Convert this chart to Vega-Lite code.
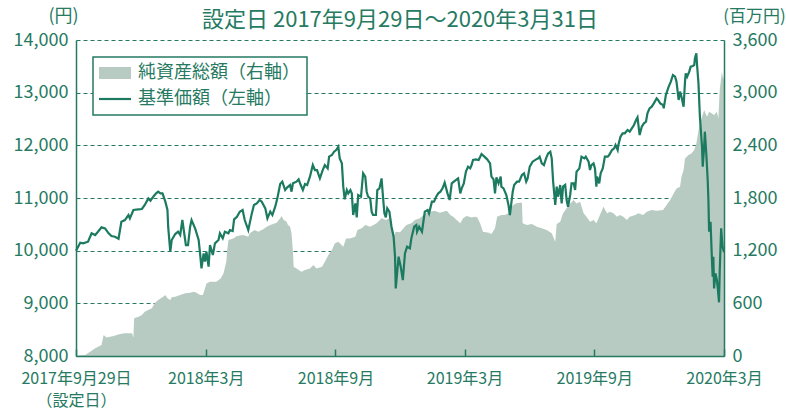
{
  "$schema": "https://vega.github.io/schema/vega-lite/v6.json",
  "width": 648,
  "height": 316,
  "autosize": {"type": "none"},
  "padding": {"left": 76, "top": 40, "right": 62, "bottom": 56},
  "background": "white",
  "title": {"text": "設定日 2017年9月29日～2020年3月31日", "fontSize": 22, "fontWeight": "normal", "color": "#267a62", "offset": 10, "dy": 35, "anchor": "middle"},
  "datasets": {
    "nav": [
      {"date": "2017-09-29", "nav": 10000}, {"date": "2017-10-05", "nav": 10151}, {"date": "2017-10-09", "nav": 10139}, {"date": "2017-10-16", "nav": 10170},
      {"date": "2017-10-21", "nav": 10329}, {"date": "2017-10-26", "nav": 10297}, {"date": "2017-10-30", "nav": 10360}, {"date": "2017-11-04", "nav": 10443},
      {"date": "2017-11-09", "nav": 10424}, {"date": "2017-11-14", "nav": 10329}, {"date": "2017-11-18", "nav": 10278}, {"date": "2017-11-23", "nav": 10265},
      {"date": "2017-11-28", "nav": 10227}, {"date": "2017-12-02", "nav": 10550}, {"date": "2017-12-07", "nav": 10582}, {"date": "2017-12-12", "nav": 10677},
      {"date": "2017-12-14", "nav": 10614}, {"date": "2017-12-19", "nav": 10772}, {"date": "2017-12-26", "nav": 10784}, {"date": "2017-12-31", "nav": 10791},
      {"date": "2018-01-04", "nav": 10867}, {"date": "2018-01-09", "nav": 10993}, {"date": "2018-01-12", "nav": 10949}, {"date": "2018-01-16", "nav": 11025},
      {"date": "2018-01-20", "nav": 11088}, {"date": "2018-01-23", "nav": 11120}, {"date": "2018-01-26", "nav": 11088}, {"date": "2018-01-29", "nav": 11088},
      {"date": "2018-02-02", "nav": 10930}, {"date": "2018-02-05", "nav": 10772}, {"date": "2018-02-06", "nav": 10455}, {"date": "2018-02-09", "nav": 9980},
      {"date": "2018-02-11", "nav": 10202}, {"date": "2018-02-16", "nav": 10316}, {"date": "2018-02-20", "nav": 10360}, {"date": "2018-02-23", "nav": 10297},
      {"date": "2018-02-26", "nav": 10582}, {"date": "2018-02-28", "nav": 10392}, {"date": "2018-03-03", "nav": 10107}, {"date": "2018-03-06", "nav": 10107},
      {"date": "2018-03-09", "nav": 10455}, {"date": "2018-03-11", "nav": 10582}, {"date": "2018-03-16", "nav": 10424}, {"date": "2018-03-21", "nav": 10202},
      {"date": "2018-03-23", "nav": 9949}, {"date": "2018-03-25", "nav": 9664}, {"date": "2018-03-28", "nav": 9949}, {"date": "2018-03-30", "nav": 9791},
      {"date": "2018-04-01", "nav": 9981}, {"date": "2018-04-04", "nav": 9696}, {"date": "2018-04-06", "nav": 10107}, {"date": "2018-04-10", "nav": 9917},
      {"date": "2018-04-13", "nav": 10139}, {"date": "2018-04-18", "nav": 10202}, {"date": "2018-04-20", "nav": 10329}, {"date": "2018-04-24", "nav": 10234},
      {"date": "2018-04-27", "nav": 10360}, {"date": "2018-05-02", "nav": 10329}, {"date": "2018-05-04", "nav": 10392}, {"date": "2018-05-08", "nav": 10373},
      {"date": "2018-05-10", "nav": 10594}, {"date": "2018-05-14", "nav": 10645}, {"date": "2018-05-18", "nav": 10740}, {"date": "2018-05-22", "nav": 10772},
      {"date": "2018-05-25", "nav": 10582}, {"date": "2018-05-30", "nav": 10392}, {"date": "2018-06-04", "nav": 10708}, {"date": "2018-06-07", "nav": 10867},
      {"date": "2018-06-11", "nav": 10898}, {"date": "2018-06-15", "nav": 10962}, {"date": "2018-06-18", "nav": 10930}, {"date": "2018-06-23", "nav": 10803},
      {"date": "2018-06-26", "nav": 10613}, {"date": "2018-06-30", "nav": 10740}, {"date": "2018-07-03", "nav": 10677}, {"date": "2018-07-07", "nav": 10835},
      {"date": "2018-07-10", "nav": 10993}, {"date": "2018-07-14", "nav": 11265}, {"date": "2018-07-17", "nav": 11310}, {"date": "2018-07-21", "nav": 11151},
      {"date": "2018-07-24", "nav": 11202}, {"date": "2018-07-28", "nav": 11246}, {"date": "2018-07-30", "nav": 11120}, {"date": "2018-08-01", "nav": 11278},
      {"date": "2018-08-06", "nav": 11310}, {"date": "2018-08-09", "nav": 11354}, {"date": "2018-08-12", "nav": 11246}, {"date": "2018-08-15", "nav": 11151},
      {"date": "2018-08-18", "nav": 11265}, {"date": "2018-08-21", "nav": 11246}, {"date": "2018-08-25", "nav": 11405}, {"date": "2018-08-29", "nav": 11626},
      {"date": "2018-09-01", "nav": 11531}, {"date": "2018-09-04", "nav": 11531}, {"date": "2018-09-08", "nav": 11373}, {"date": "2018-09-12", "nav": 11531},
      {"date": "2018-09-15", "nav": 11626}, {"date": "2018-09-19", "nav": 11563}, {"date": "2018-09-21", "nav": 11785}, {"date": "2018-09-25", "nav": 11816},
      {"date": "2018-09-28", "nav": 11880}, {"date": "2018-10-01", "nav": 11911}, {"date": "2018-10-04", "nav": 11974}, {"date": "2018-10-06", "nav": 11753},
      {"date": "2018-10-09", "nav": 11658}, {"date": "2018-10-11", "nav": 11215}, {"date": "2018-10-13", "nav": 10974}, {"date": "2018-10-16", "nav": 11151},
      {"date": "2018-10-18", "nav": 11088}, {"date": "2018-10-21", "nav": 11151}, {"date": "2018-10-23", "nav": 11088}, {"date": "2018-10-25", "nav": 10677},
      {"date": "2018-10-28", "nav": 10898}, {"date": "2018-10-30", "nav": 10632}, {"date": "2018-11-01", "nav": 11057}, {"date": "2018-11-05", "nav": 11025},
      {"date": "2018-11-08", "nav": 11468}, {"date": "2018-11-11", "nav": 11405}, {"date": "2018-11-13", "nav": 11120}, {"date": "2018-11-15", "nav": 11025},
      {"date": "2018-11-18", "nav": 10993}, {"date": "2018-11-20", "nav": 10740}, {"date": "2018-11-22", "nav": 10677}, {"date": "2018-11-26", "nav": 10677},
      {"date": "2018-11-28", "nav": 11151}, {"date": "2018-12-01", "nav": 11183}, {"date": "2018-12-04", "nav": 11373}, {"date": "2018-12-06", "nav": 11025},
      {"date": "2018-12-08", "nav": 10708}, {"date": "2018-12-10", "nav": 10632}, {"date": "2018-12-12", "nav": 10803}, {"date": "2018-12-15", "nav": 10740},
      {"date": "2018-12-18", "nav": 10455}, {"date": "2018-12-21", "nav": 10265}, {"date": "2018-12-23", "nav": 9886}, {"date": "2018-12-24", "nav": 9284},
      {"date": "2018-12-28", "nav": 9886}, {"date": "2018-12-31", "nav": 9696}, {"date": "2019-01-03", "nav": 9442}, {"date": "2019-01-06", "nav": 9949},
      {"date": "2019-01-09", "nav": 10075}, {"date": "2019-01-13", "nav": 10044}, {"date": "2019-01-15", "nav": 10234}, {"date": "2019-01-19", "nav": 10455},
      {"date": "2019-01-22", "nav": 10487}, {"date": "2019-01-23", "nav": 10360}, {"date": "2019-01-26", "nav": 10455}, {"date": "2019-01-30", "nav": 10360},
      {"date": "2019-02-01", "nav": 10550}, {"date": "2019-02-03", "nav": 10740}, {"date": "2019-02-07", "nav": 10772}, {"date": "2019-02-09", "nav": 10708},
      {"date": "2019-02-13", "nav": 10930}, {"date": "2019-02-16", "nav": 10930}, {"date": "2019-02-19", "nav": 11025}, {"date": "2019-02-22", "nav": 11088},
      {"date": "2019-02-25", "nav": 11120}, {"date": "2019-02-28", "nav": 11183}, {"date": "2019-03-03", "nav": 11291}, {"date": "2019-03-07", "nav": 11088},
      {"date": "2019-03-10", "nav": 10962}, {"date": "2019-03-13", "nav": 11278}, {"date": "2019-03-16", "nav": 11310}, {"date": "2019-03-20", "nav": 11354},
      {"date": "2019-03-22", "nav": 11373}, {"date": "2019-03-25", "nav": 11088}, {"date": "2019-03-27", "nav": 11183}, {"date": "2019-03-30", "nav": 11278},
      {"date": "2019-04-02", "nav": 11500}, {"date": "2019-04-05", "nav": 11595}, {"date": "2019-04-08", "nav": 11563}, {"date": "2019-04-10", "nav": 11626},
      {"date": "2019-04-12", "nav": 11721}, {"date": "2019-04-16", "nav": 11734}, {"date": "2019-04-20", "nav": 11721}, {"date": "2019-04-24", "nav": 11835},
      {"date": "2019-04-28", "nav": 11785}, {"date": "2019-05-02", "nav": 11734}, {"date": "2019-05-06", "nav": 11658}, {"date": "2019-05-08", "nav": 11405},
      {"date": "2019-05-11", "nav": 11354}, {"date": "2019-05-13", "nav": 11088}, {"date": "2019-05-15", "nav": 11392}, {"date": "2019-05-18", "nav": 11278},
      {"date": "2019-05-21", "nav": 11405}, {"date": "2019-05-22", "nav": 11215}, {"date": "2019-05-25", "nav": 11183}, {"date": "2019-05-29", "nav": 11057},
      {"date": "2019-06-01", "nav": 10867}, {"date": "2019-06-03", "nav": 10677}, {"date": "2019-06-07", "nav": 11120}, {"date": "2019-06-09", "nav": 11246},
      {"date": "2019-06-13", "nav": 11310}, {"date": "2019-06-16", "nav": 11310}, {"date": "2019-06-20", "nav": 11436}, {"date": "2019-06-23", "nav": 11468},
      {"date": "2019-06-26", "nav": 11310}, {"date": "2019-06-28", "nav": 11373}, {"date": "2019-07-01", "nav": 11595}, {"date": "2019-07-05", "nav": 11690},
      {"date": "2019-07-10", "nav": 11734}, {"date": "2019-07-13", "nav": 11753}, {"date": "2019-07-15", "nav": 11785}, {"date": "2019-07-18", "nav": 11658},
      {"date": "2019-07-21", "nav": 11626}, {"date": "2019-07-24", "nav": 11753}, {"date": "2019-07-27", "nav": 11848}, {"date": "2019-07-30", "nav": 11880},
      {"date": "2019-08-01", "nav": 11753}, {"date": "2019-08-03", "nav": 11310}, {"date": "2019-08-06", "nav": 10867}, {"date": "2019-08-08", "nav": 11215},
      {"date": "2019-08-10", "nav": 11025}, {"date": "2019-08-13", "nav": 11247}, {"date": "2019-08-15", "nav": 10898}, {"date": "2019-08-17", "nav": 11215},
      {"date": "2019-08-20", "nav": 11247}, {"date": "2019-08-22", "nav": 10962}, {"date": "2019-08-24", "nav": 10835}, {"date": "2019-08-27", "nav": 11057},
      {"date": "2019-08-29", "nav": 11278}, {"date": "2019-09-01", "nav": 11278}, {"date": "2019-09-03", "nav": 11152}, {"date": "2019-09-05", "nav": 11500},
      {"date": "2019-09-09", "nav": 11563}, {"date": "2019-09-12", "nav": 11785}, {"date": "2019-09-16", "nav": 11753}, {"date": "2019-09-18", "nav": 11785},
      {"date": "2019-09-22", "nav": 11690}, {"date": "2019-09-24", "nav": 11531}, {"date": "2019-09-26", "nav": 11626}, {"date": "2019-09-29", "nav": 11658},
      {"date": "2019-10-01", "nav": 11563}, {"date": "2019-10-03", "nav": 11215}, {"date": "2019-10-04", "nav": 11405}, {"date": "2019-10-07", "nav": 11278},
      {"date": "2019-10-09", "nav": 11468}, {"date": "2019-10-12", "nav": 11563}, {"date": "2019-10-15", "nav": 11785}, {"date": "2019-10-19", "nav": 11785},
      {"date": "2019-10-21", "nav": 11816}, {"date": "2019-10-25", "nav": 11911}, {"date": "2019-10-28", "nav": 11943}, {"date": "2019-10-30", "nav": 12006},
      {"date": "2019-11-02", "nav": 11911}, {"date": "2019-11-03", "nav": 12006}, {"date": "2019-11-06", "nav": 12164}, {"date": "2019-11-09", "nav": 12228},
      {"date": "2019-11-12", "nav": 12228}, {"date": "2019-11-16", "nav": 12291}, {"date": "2019-11-19", "nav": 12259}, {"date": "2019-11-22", "nav": 12323},
      {"date": "2019-11-25", "nav": 12386}, {"date": "2019-11-28", "nav": 12481}, {"date": "2019-11-30", "nav": 12531}, {"date": "2019-12-03", "nav": 12196},
      {"date": "2019-12-06", "nav": 12354}, {"date": "2019-12-09", "nav": 12418}, {"date": "2019-12-12", "nav": 12449}, {"date": "2019-12-14", "nav": 12607},
      {"date": "2019-12-17", "nav": 12702}, {"date": "2019-12-20", "nav": 12734}, {"date": "2019-12-23", "nav": 12797}, {"date": "2019-12-27", "nav": 12892},
      {"date": "2019-12-29", "nav": 12861}, {"date": "2020-01-01", "nav": 12797}, {"date": "2020-01-05", "nav": 12766}, {"date": "2020-01-06", "nav": 12702},
      {"date": "2020-01-09", "nav": 12956}, {"date": "2020-01-13", "nav": 13114}, {"date": "2020-01-16", "nav": 13209}, {"date": "2020-01-19", "nav": 13335},
      {"date": "2020-01-22", "nav": 13304}, {"date": "2020-01-24", "nav": 13209}, {"date": "2020-01-27", "nav": 12861}, {"date": "2020-01-29", "nav": 13019},
      {"date": "2020-01-31", "nav": 12924}, {"date": "2020-02-03", "nav": 12734}, {"date": "2020-02-05", "nav": 13209}, {"date": "2020-02-06", "nav": 13367},
      {"date": "2020-02-08", "nav": 13304}, {"date": "2020-02-11", "nav": 13399}, {"date": "2020-02-13", "nav": 13494}, {"date": "2020-02-16", "nav": 13506},
      {"date": "2020-02-18", "nav": 13525}, {"date": "2020-02-19", "nav": 13652}, {"date": "2020-02-21", "nav": 13747}, {"date": "2020-02-22", "nav": 13525},
      {"date": "2020-02-24", "nav": 13177}, {"date": "2020-02-26", "nav": 12544}, {"date": "2020-02-29", "nav": 11974}, {"date": "2020-03-01", "nav": 11595},
      {"date": "2020-03-03", "nav": 11974}, {"date": "2020-03-04", "nav": 12259}, {"date": "2020-03-06", "nav": 11848}, {"date": "2020-03-08", "nav": 11341},
      {"date": "2020-03-09", "nav": 10962}, {"date": "2020-03-10", "nav": 10360}, {"date": "2020-03-12", "nav": 10550}, {"date": "2020-03-14", "nav": 9822},
      {"date": "2020-03-15", "nav": 9506}, {"date": "2020-03-16", "nav": 9886}, {"date": "2020-03-17", "nav": 9284}, {"date": "2020-03-19", "nav": 9569},
      {"date": "2020-03-21", "nav": 9442}, {"date": "2020-03-22", "nav": 9316}, {"date": "2020-03-24", "nav": 9020}, {"date": "2020-03-25", "nav": 9632},
      {"date": "2020-03-27", "nav": 10424}, {"date": "2020-03-29", "nav": 10075}, {"date": "2020-03-31", "nav": 9970}
    ],
    "assets": [
      {"date": "2017-09-29", "assets": 5}, {"date": "2017-10-12", "assets": 10}, {"date": "2017-10-19", "assets": 49}, {"date": "2017-10-26", "assets": 87},
      {"date": "2017-11-04", "assets": 125}, {"date": "2017-11-07", "assets": 239}, {"date": "2017-11-11", "assets": 212}, {"date": "2017-11-21", "assets": 228},
      {"date": "2017-11-30", "assets": 250}, {"date": "2017-12-07", "assets": 258}, {"date": "2017-12-17", "assets": 258}, {"date": "2017-12-19", "assets": 212},
      {"date": "2017-12-20", "assets": 429}, {"date": "2017-12-26", "assets": 448}, {"date": "2017-12-31", "assets": 467}, {"date": "2018-01-04", "assets": 505},
      {"date": "2018-01-09", "assets": 524}, {"date": "2018-01-14", "assets": 543}, {"date": "2018-01-18", "assets": 600}, {"date": "2018-01-23", "assets": 638},
      {"date": "2018-01-30", "assets": 676}, {"date": "2018-02-02", "assets": 695}, {"date": "2018-02-05", "assets": 657}, {"date": "2018-02-09", "assets": 638},
      {"date": "2018-02-11", "assets": 668}, {"date": "2018-02-16", "assets": 676}, {"date": "2018-02-23", "assets": 695}, {"date": "2018-03-02", "assets": 714},
      {"date": "2018-03-09", "assets": 721}, {"date": "2018-03-14", "assets": 733}, {"date": "2018-03-18", "assets": 721}, {"date": "2018-03-23", "assets": 695},
      {"date": "2018-03-27", "assets": 695}, {"date": "2018-03-30", "assets": 771}, {"date": "2018-04-01", "assets": 827}, {"date": "2018-04-06", "assets": 847},
      {"date": "2018-04-15", "assets": 847}, {"date": "2018-04-21", "assets": 884}, {"date": "2018-04-25", "assets": 941}, {"date": "2018-04-29", "assets": 1074},
      {"date": "2018-04-30", "assets": 1188}, {"date": "2018-05-02", "assets": 1321}, {"date": "2018-05-09", "assets": 1340}, {"date": "2018-05-14", "assets": 1367},
      {"date": "2018-05-23", "assets": 1378}, {"date": "2018-05-30", "assets": 1359}, {"date": "2018-06-01", "assets": 1397}, {"date": "2018-06-08", "assets": 1435},
      {"date": "2018-06-13", "assets": 1416}, {"date": "2018-06-20", "assets": 1443}, {"date": "2018-06-25", "assets": 1473}, {"date": "2018-06-30", "assets": 1492},
      {"date": "2018-07-04", "assets": 1503}, {"date": "2018-07-09", "assets": 1519}, {"date": "2018-07-14", "assets": 1568}, {"date": "2018-07-16", "assets": 1594},
      {"date": "2018-07-19", "assets": 1549}, {"date": "2018-07-23", "assets": 1530}, {"date": "2018-07-25", "assets": 1492}, {"date": "2018-07-28", "assets": 1473},
      {"date": "2018-07-30", "assets": 1397}, {"date": "2018-08-01", "assets": 1188}, {"date": "2018-08-02", "assets": 1017}, {"date": "2018-08-06", "assets": 998},
      {"date": "2018-08-13", "assets": 960}, {"date": "2018-08-18", "assets": 979}, {"date": "2018-08-25", "assets": 998}, {"date": "2018-08-30", "assets": 1036},
      {"date": "2018-09-03", "assets": 998}, {"date": "2018-09-11", "assets": 1017}, {"date": "2018-09-15", "assets": 1074}, {"date": "2018-09-20", "assets": 1150},
      {"date": "2018-09-25", "assets": 1207}, {"date": "2018-09-29", "assets": 1283}, {"date": "2018-10-04", "assets": 1302}, {"date": "2018-10-11", "assets": 1245},
      {"date": "2018-10-15", "assets": 1340}, {"date": "2018-10-20", "assets": 1340}, {"date": "2018-10-28", "assets": 1359}, {"date": "2018-10-31", "assets": 1435},
      {"date": "2018-11-06", "assets": 1454}, {"date": "2018-11-11", "assets": 1492}, {"date": "2018-11-18", "assets": 1473}, {"date": "2018-11-27", "assets": 1511},
      {"date": "2018-12-04", "assets": 1568}, {"date": "2018-12-10", "assets": 1549}, {"date": "2018-12-15", "assets": 1568}, {"date": "2018-12-18", "assets": 1473},
      {"date": "2018-12-21", "assets": 1359}, {"date": "2018-12-24", "assets": 1416}, {"date": "2018-12-30", "assets": 1410}, {"date": "2019-01-04", "assets": 1454},
      {"date": "2019-01-08", "assets": 1492}, {"date": "2019-01-15", "assets": 1511}, {"date": "2019-01-20", "assets": 1549}, {"date": "2019-01-27", "assets": 1568},
      {"date": "2019-02-01", "assets": 1606}, {"date": "2019-02-06", "assets": 1632}, {"date": "2019-02-10", "assets": 1644}, {"date": "2019-02-17", "assets": 1655},
      {"date": "2019-02-24", "assets": 1632}, {"date": "2019-03-01", "assets": 1644}, {"date": "2019-03-06", "assets": 1655}, {"date": "2019-03-11", "assets": 1606},
      {"date": "2019-03-15", "assets": 1587}, {"date": "2019-03-20", "assets": 1549}, {"date": "2019-03-25", "assets": 1511}, {"date": "2019-03-29", "assets": 1568},
      {"date": "2019-04-03", "assets": 1594}, {"date": "2019-04-10", "assets": 1579}, {"date": "2019-04-15", "assets": 1587}, {"date": "2019-04-18", "assets": 1579},
      {"date": "2019-04-22", "assets": 1511}, {"date": "2019-04-26", "assets": 1416}, {"date": "2019-05-04", "assets": 1405}, {"date": "2019-05-08", "assets": 1389},
      {"date": "2019-05-13", "assets": 1454}, {"date": "2019-05-16", "assets": 1587}, {"date": "2019-05-22", "assets": 1606}, {"date": "2019-05-27", "assets": 1606},
      {"date": "2019-06-01", "assets": 1625}, {"date": "2019-06-03", "assets": 1682}, {"date": "2019-06-08", "assets": 1720}, {"date": "2019-06-12", "assets": 1739},
      {"date": "2019-06-17", "assets": 1746}, {"date": "2019-06-20", "assets": 1746}, {"date": "2019-06-21", "assets": 1511}, {"date": "2019-06-27", "assets": 1492},
      {"date": "2019-07-04", "assets": 1503}, {"date": "2019-07-11", "assets": 1473}, {"date": "2019-07-18", "assets": 1454}, {"date": "2019-07-25", "assets": 1435},
      {"date": "2019-08-01", "assets": 1397}, {"date": "2019-08-06", "assets": 1302}, {"date": "2019-08-08", "assets": 1503}, {"date": "2019-08-13", "assets": 1530},
      {"date": "2019-08-17", "assets": 1625}, {"date": "2019-08-22", "assets": 1682}, {"date": "2019-08-27", "assets": 1738}, {"date": "2019-09-01", "assets": 1776},
      {"date": "2019-09-05", "assets": 1738}, {"date": "2019-09-10", "assets": 1757}, {"date": "2019-09-15", "assets": 1625}, {"date": "2019-09-19", "assets": 1587},
      {"date": "2019-09-24", "assets": 1530}, {"date": "2019-09-29", "assets": 1549}, {"date": "2019-10-03", "assets": 1511}, {"date": "2019-10-08", "assets": 1606},
      {"date": "2019-10-13", "assets": 1700}, {"date": "2019-10-18", "assets": 1625}, {"date": "2019-10-22", "assets": 1644}, {"date": "2019-10-27", "assets": 1625},
      {"date": "2019-11-01", "assets": 1587}, {"date": "2019-11-05", "assets": 1606}, {"date": "2019-11-10", "assets": 1587}, {"date": "2019-11-15", "assets": 1549},
      {"date": "2019-11-19", "assets": 1587}, {"date": "2019-11-27", "assets": 1606}, {"date": "2019-12-01", "assets": 1625}, {"date": "2019-12-08", "assets": 1606},
      {"date": "2019-12-13", "assets": 1644}, {"date": "2019-12-20", "assets": 1663}, {"date": "2019-12-27", "assets": 1655}, {"date": "2020-01-05", "assets": 1663},
      {"date": "2020-01-10", "assets": 1720}, {"date": "2020-01-15", "assets": 1776}, {"date": "2020-01-20", "assets": 1852}, {"date": "2020-01-24", "assets": 1909},
      {"date": "2020-01-29", "assets": 1928}, {"date": "2020-01-31", "assets": 2042}, {"date": "2020-02-03", "assets": 2118}, {"date": "2020-02-05", "assets": 2251},
      {"date": "2020-02-10", "assets": 2289}, {"date": "2020-02-14", "assets": 2308}, {"date": "2020-02-18", "assets": 2346}, {"date": "2020-02-21", "assets": 2422},
      {"date": "2020-02-25", "assets": 2612}, {"date": "2020-02-29", "assets": 2726}, {"date": "2020-03-03", "assets": 2802}, {"date": "2020-03-07", "assets": 2726},
      {"date": "2020-03-10", "assets": 2783}, {"date": "2020-03-14", "assets": 2764}, {"date": "2020-03-17", "assets": 2745}, {"date": "2020-03-21", "assets": 2783},
      {"date": "2020-03-23", "assets": 2707}, {"date": "2020-03-25", "assets": 3029}, {"date": "2020-03-28", "assets": 3238}, {"date": "2020-03-30", "assets": 3143},
      {"date": "2020-03-31", "assets": 3200}
    ]
  },
  "layer": [
    {
      "data": {"name": "assets"},
      "mark": {"type": "area", "opacity": 1, "interpolate": "linear"},
      "encoding": {
        "x": {
          "field": "date", "type": "temporal",
          "scale": {"type": "utc", "domain": [{"year": 2017, "month": 9, "date": 29, "utc": true}, {"year": 2020, "month": 3, "date": 31, "utc": true}]},
          "axis": {
            "title": null, "orient": "bottom", "zindex": 1, "grid": false,
            "values": [
              {"year": 2017, "month": 9, "date": 29, "utc": true},
              {"year": 2018, "month": 3, "date": 31, "utc": true},
              {"year": 2018, "month": 9, "date": 30, "utc": true},
              {"year": 2019, "month": 3, "date": 31, "utc": true},
              {"year": 2019, "month": 9, "date": 30, "utc": true},
              {"year": 2020, "month": 3, "date": 31, "utc": true}
            ],
            "labelExpr": "utcdate(datum.value) == 29 ? ['2017年9月29日', '（設定日）'] : utcFormat(datum.value, '%Y年%-m月')",
            "labelFontSize": 16, "labelColor": "#267a62", "labelPadding": 21, "labelLineHeight": 22,
            "labelOverlap": false, "labelBound": false, "labelFlush": false,
            "tickSize": -7, "tickColor": "#267a62", "tickWidth": 1.5,
            "domainColor": "#267a62", "domainWidth": 1.5
          }
        },
        "y": {
          "field": "assets", "type": "quantitative",
          "scale": {"domain": [0, 3600], "nice": false},
          "axis": {
            "orient": "right", "zindex": 1, "grid": false, "ticks": false,
            "values": [0, 600, 1200, 1800, 2400, 3000, 3600], "format": ",.0f",
            "labelFontSize": 18, "labelColor": "#267a62", "labelPadding": 8,
            "domainColor": "#267a62", "domainWidth": 1.5,
            "title": "(百万円)", "titleAngle": 0, "titleX": 30, "titleY": -24, "titleAlign": "center", "titleBaseline": "middle",
            "titleFontSize": 17, "titleFontWeight": "normal", "titleColor": "#267a62"
          }
        },
        "color": {
          "datum": "純資産総額（右軸）", "type": "nominal",
          "scale": {"domain": ["純資産総額（右軸）", "基準価額（左軸）"], "range": ["#b8cbc2", "#1b7a5f"]},
          "legend": {
            "title": null, "orient": "top-left", "offset": 17,
            "values": ["純資産総額（右軸）", "基準価額（左軸）"],
            "labelFontSize": 18, "labelColor": "#267a62", "labelOffset": 14, "labelLimit": 400,
            "symbolSize": 225, "rowPadding": 6, "padding": 7, "symbolOffset": 6,
            "symbolType": {"expr": "datum.value === '基準価額（左軸）' ? 'M-2.13,0H2.13' : 'M-2.13,-0.8H2.13V0.8H-2.13Z'"},
            "symbolStrokeColor": {"expr": "datum.value === '基準価額（左軸）' ? '#1b7a5f' : 'transparent'"},
            "symbolStrokeWidth": 2.2,
            "symbolOpacity": 1,
            "strokeColor": "#267a62", "fillColor": "white"
          }
        }
      }
    },
    {
      "data": {"name": "nav"},
      "mark": {"type": "line", "strokeWidth": 2.2, "interpolate": "linear", "color": "#1b7a5f"},
      "encoding": {
        "x": {"field": "date", "type": "temporal"},
        "y": {
          "field": "nav", "type": "quantitative",
          "scale": {"domain": [8000, 14000], "nice": false},
          "axis": {
            "orient": "left", "zindex": 0, "grid": true, "ticks": false,
            "values": [8000, 9000, 10000, 11000, 12000, 13000, 14000], "format": ",.0f",
            "gridColor": "#267a62", "gridDash": [4, 3], "gridWidth": 1,
            "labelFontSize": 18, "labelColor": "#267a62", "labelPadding": 8,
            "domainColor": "#267a62", "domainWidth": 1.5,
            "title": "(円)", "titleAngle": 0, "titleX": -13, "titleY": -24, "titleAlign": "center", "titleBaseline": "middle",
            "titleFontSize": 18, "titleFontWeight": "normal", "titleColor": "#267a62"
          }
        }
      }
    }
  ],
  "resolve": {"scale": {"y": "independent"}},
  "config": {
    "font": "Noto Sans CJK JP",
    "view": {"stroke": null},
    "legend": {"strokeWidth": 1.5}
  }
}
